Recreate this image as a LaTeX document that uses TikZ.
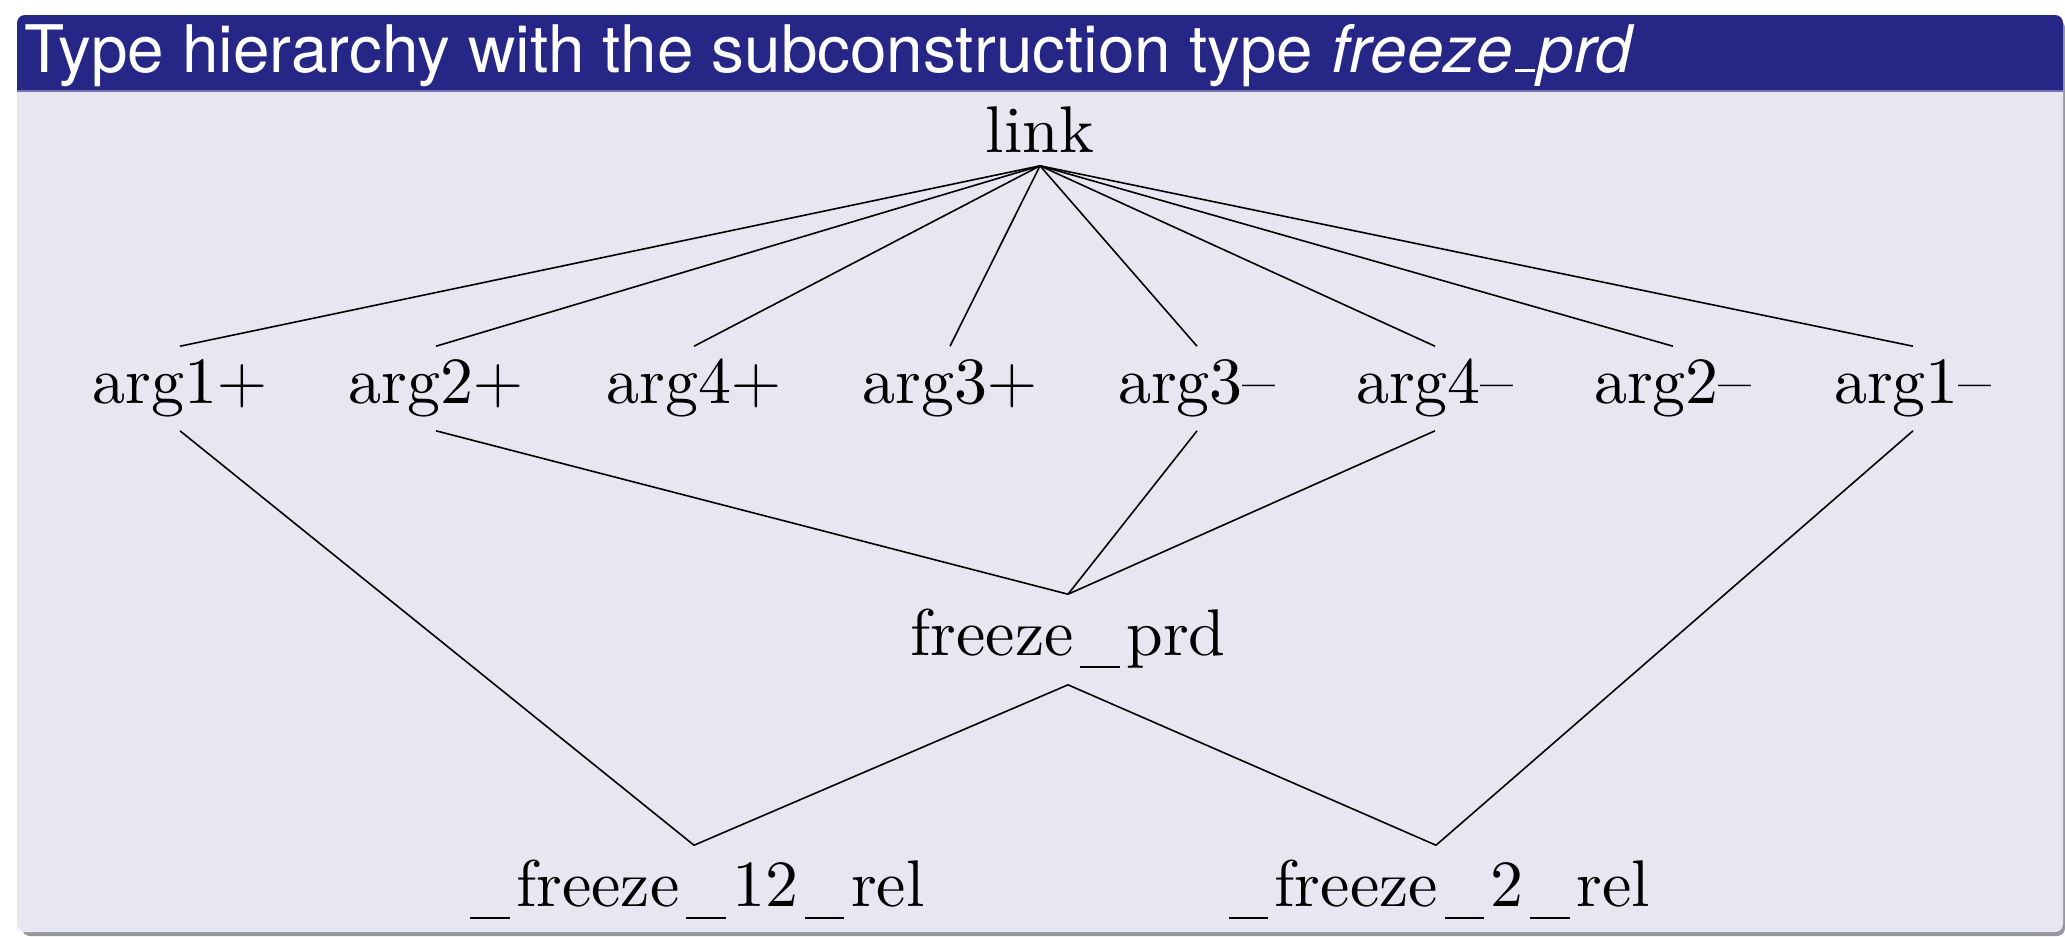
\documentclass[tikz,border=0pt]{standalone}
\usepackage{fontspec}
\newfontfamily\titlefont{TeX Gyre Heros}
\newfontfamily\bodyfont{lmroman10-regular.otf}[Ligatures=TeX]
\definecolor{titlebg}{RGB}{38,38,134}
\definecolor{bodybg}{RGB}{231,231,242}
\definecolor{shadowc}{RGB}{150,150,155}
\newcommand{\myus}{\kern0.1em\rule[-0.2em]{0.6em}{0.035em}\kern0.1em}
\newcommand{\myitus}{\kern0.04em\rule{0.3em}{0.05em}\kern0.04em}
\begin{document}
\begin{tikzpicture}[x=0.25pt,y=-0.25pt,
  every node/.style={inner sep=0pt,font=\bodyfont\fontsize{16.5}{20}\selectfont},
  topnode/.style={anchor=base,text depth=3.25pt},
  argnode/.style={anchor=base,text height=14pt,text depth=6.75pt},
  midnode/.style={anchor=base,text height=15pt,text depth=7.25pt},
  botnode/.style={anchor=base,text height=15pt,text depth=4pt},
  edge/.style={draw=black,line width=0.4pt}]
\useasboundingbox (0,0) rectangle (2065,936);
% shadow and frame
\fill[shadowc,rounded corners=2pt] (22,20) rectangle (2065,936);
\fill[bodybg,rounded corners=2pt] (17,15) rectangle (2063,932);
\fill[titlebg] (17,90) {[rounded corners=2pt] -- (17,15) -- (2063,15)} -- (2063,90) -- cycle;
\fill[titlebg!60!bodybg] (17,90) rectangle (2063,92);
\node[anchor=base west,text=white,font=\titlefont\fontsize{16.4}{20}\selectfont] (title) at (24,72)
  {Type hierarchy with the subconstruction type \textit{freeze\myitus prd}};
% nodes
\node[topnode] (link) at (1040,152) {link};
\node[argnode] (a1p) at (180,403) {arg1$+$};
\node[argnode] (a2p) at (436,403) {arg2$+$};
\node[argnode] (a4p) at (694,403) {arg4$+$};
\node[argnode] (a3p) at (950,403) {arg3$+$};
\node[argnode] (a3m) at (1197,403) {arg3--};
\node[argnode] (a4m) at (1435,403) {arg4--};
\node[argnode] (a2m) at (1673,403) {arg2--};
\node[argnode] (a1m) at (1913,403) {arg1--};
\node[midnode] (fp) at (1068,655) {freeze\myus prd};
\node[botnode] (f12) at (694,906) {\myus freeze\myus 12\myus rel};
\node[botnode] (f2) at (1436,906) {\myus freeze\myus 2\myus rel};
% edges
\foreach \n in {a1p,a2p,a4p,a3p,a3m,a4m,a2m,a1m}
  \draw[edge] (link.south) -- (\n.north);
\draw[edge] (a2p.south) -- (fp.north);
\draw[edge] (a3m.south) -- (fp.north);
\draw[edge] (a4m.south) -- (fp.north);
\draw[edge] (a1p.south) -- (f12.north);
\draw[edge] (fp.south) -- (f12.north);
\draw[edge] (fp.south) -- (f2.north);
\draw[edge] (a1m.south) -- (f2.north);
\end{tikzpicture}
\end{document}
